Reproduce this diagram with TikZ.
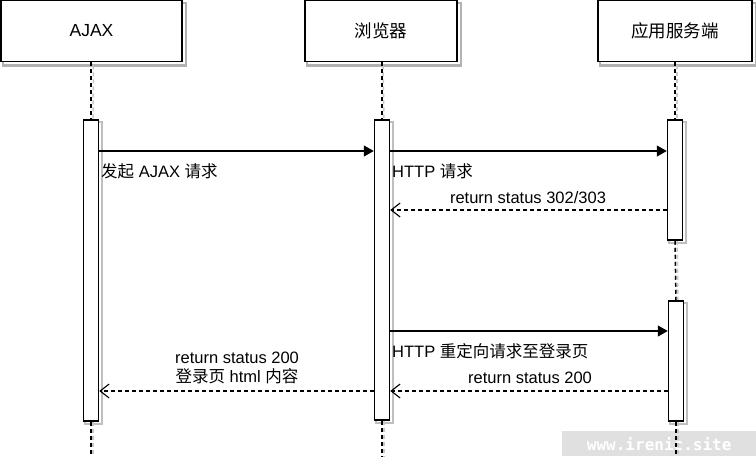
\documentclass[tikz,border=0pt]{standalone}
\usepackage{fontspec}
\setmainfont{Liberation Sans}
\newfontfamily\cjk{Noto Sans CJK SC}
\newfontfamily\wmfont{DejaVu Sans Mono}
\newcommand\zh[1]{{\cjk #1}}
\usetikzlibrary{arrows.meta,backgrounds}
\begin{document}
\begin{tikzpicture}[x=1pt,y=-1pt,
  font=\fontsize{16.5}{20}\selectfont,
  actor/.style={draw=black, line width=1.8pt, fill=white, minimum height=61pt, inner sep=0pt,
    font=\fontsize{17.5}{20}\selectfont},
  actbar/.style={draw=black, line width=1.5pt, fill=white, minimum width=15pt, inner sep=0pt},
  boxshadow/.style={draw=black!30, line width=2.2pt},
  barshadow/.style={draw=black!25, line width=2pt},
  lifeline/.style={draw=black, line width=1.5pt, dash pattern=on 4pt off 3pt},
  lifeshadow/.style={draw=black!22, line width=1.5pt, dash pattern=on 4pt off 3pt},
  msg/.style={draw=black, line width=1.1pt, -{Triangle[length=10pt,width=11pt]}},
  reply/.style={draw=black, line width=1.1pt, dash pattern=on 4pt off 3pt, -{Straight Barb[length=9pt,width=14pt,line width=1.1pt]}},
  lbl/.style={inner sep=0pt, text=black}
]
\useasboundingbox (0,0) rectangle (756,456);

% headers
\node[actor, minimum width=181pt] (ajax) at (91.5,31) {AJAX};
\node[actor, minimum width=152pt] (br) at (381,31) {\zh{浏览器}};
\node[actor, minimum width=154pt] (srv) at (675,31) {\zh{应用服务端}};

% activation bars
\node[actbar, minimum height=301pt] (ajaxbar) at (91,270.5) {};
\node[actbar, minimum height=300pt] (brbar) at (382,270) {};
\node[actbar, minimum height=120pt] (srvbar1) at (675,180) {};
\node[actbar, minimum height=120pt] (srvbar2) at (676,361) {};

% bottom coordinates
\coordinate (ajaxend) at (91,456);
\coordinate (brend) at (382,456);
\coordinate (srvend) at (676,456);

\begin{scope}[on background layer]
  \fill[white] (0,0) rectangle (756,456);
  % watermark
  \node[fill=black!12, minimum width=194pt, minimum height=25pt, inner sep=0pt, anchor=north west,
    text=white, font=\wmfont\bfseries\fontsize{16}{18}\selectfont] (wm) at (562,431) {www.irenic.site};
  % shadows
  \foreach \n in {ajax,br,srv}
    \draw[boxshadow] ([shift={(3,3)}]\n.south west) rectangle ([shift={(3,3)}]\n.north east);
  \foreach \n in {ajaxbar,brbar,srvbar1,srvbar2}
    \draw[barshadow] ([shift={(2.5,2.5)}]\n.south west) rectangle ([shift={(2.5,2.5)}]\n.north east);
  % lifeline shadows
  \draw[lifeshadow] ([shift={(2,3)}]ajax.south) -- ([xshift=2pt]ajaxbar.north);
  \draw[lifeshadow] ([shift={(2,3)}]br.south) -- ([xshift=2pt]brbar.north);
  \draw[lifeshadow] ([shift={(2,3)}]srv.south) -- ([xshift=2pt]srvbar1.north);
  \draw[lifeshadow] ([xshift=2pt]srvbar1.south) -- ([xshift=2pt]srvbar2.north);
  \draw[lifeshadow] ([xshift=2pt]ajaxbar.south) -- ([xshift=2pt]ajaxend);
  \draw[lifeshadow] ([xshift=2pt]brbar.south) -- ([xshift=2pt]brend);
  \draw[lifeshadow] ([xshift=2pt]srvbar2.south) -- ([xshift=2pt]srvend);
\end{scope}

% lifelines
\draw[lifeline] (ajax.south -| ajaxbar.north) -- (ajaxbar.north);
\draw[lifeline] (br.south -| brbar.north) -- (brbar.north);
\draw[lifeline] (srv.south -| srvbar1.north) -- (srvbar1.north);
\draw[lifeline] (srvbar1.south) -- (srvbar2.north);
\draw[lifeline] (ajaxbar.south) -- (ajaxend);
\draw[lifeline] (brbar.south) -- (brend);
\draw[lifeline] (srvbar2.south) -- (srvend);

% message levels
\coordinate (y1) at (0,151);
\coordinate (y2) at (0,210);
\coordinate (y3) at (0,331);
\coordinate (y4) at (0,391);

% messages
\draw[msg] (ajaxbar.east |- y1) -- (brbar.west |- y1);
\draw[msg] (brbar.east |- y1) -- (srvbar1.west |- y1);
\draw[reply] (srvbar1.west |- y2) -- (brbar.east |- y2);
\draw[msg] (brbar.east |- y3) -- (srvbar2.west |- y3);
\draw[reply] (srvbar2.west |- y4) -- (brbar.east |- y4);
\draw[reply] (brbar.west |- y4) -- (ajaxbar.east |- y4);

% labels
\node[lbl, anchor=west] (l1) at (101,171) {\zh{发起} AJAX \zh{请求}};
\node[lbl, anchor=west] (l2) at (392,171) {HTTP \zh{请求}};
\node[lbl] (l3) at (528,198) {return status 302/303};
\node[lbl, anchor=west] (l4) at (392,351) {HTTP \zh{重定向请求至登录页}};
\node[lbl] (l5) at (530,378) {return status 200};
\node[lbl, align=center] (l6) at (237,368) {return status 200\\[-1pt]\zh{登录页} html \zh{内容}};
\end{tikzpicture}
\end{document}
